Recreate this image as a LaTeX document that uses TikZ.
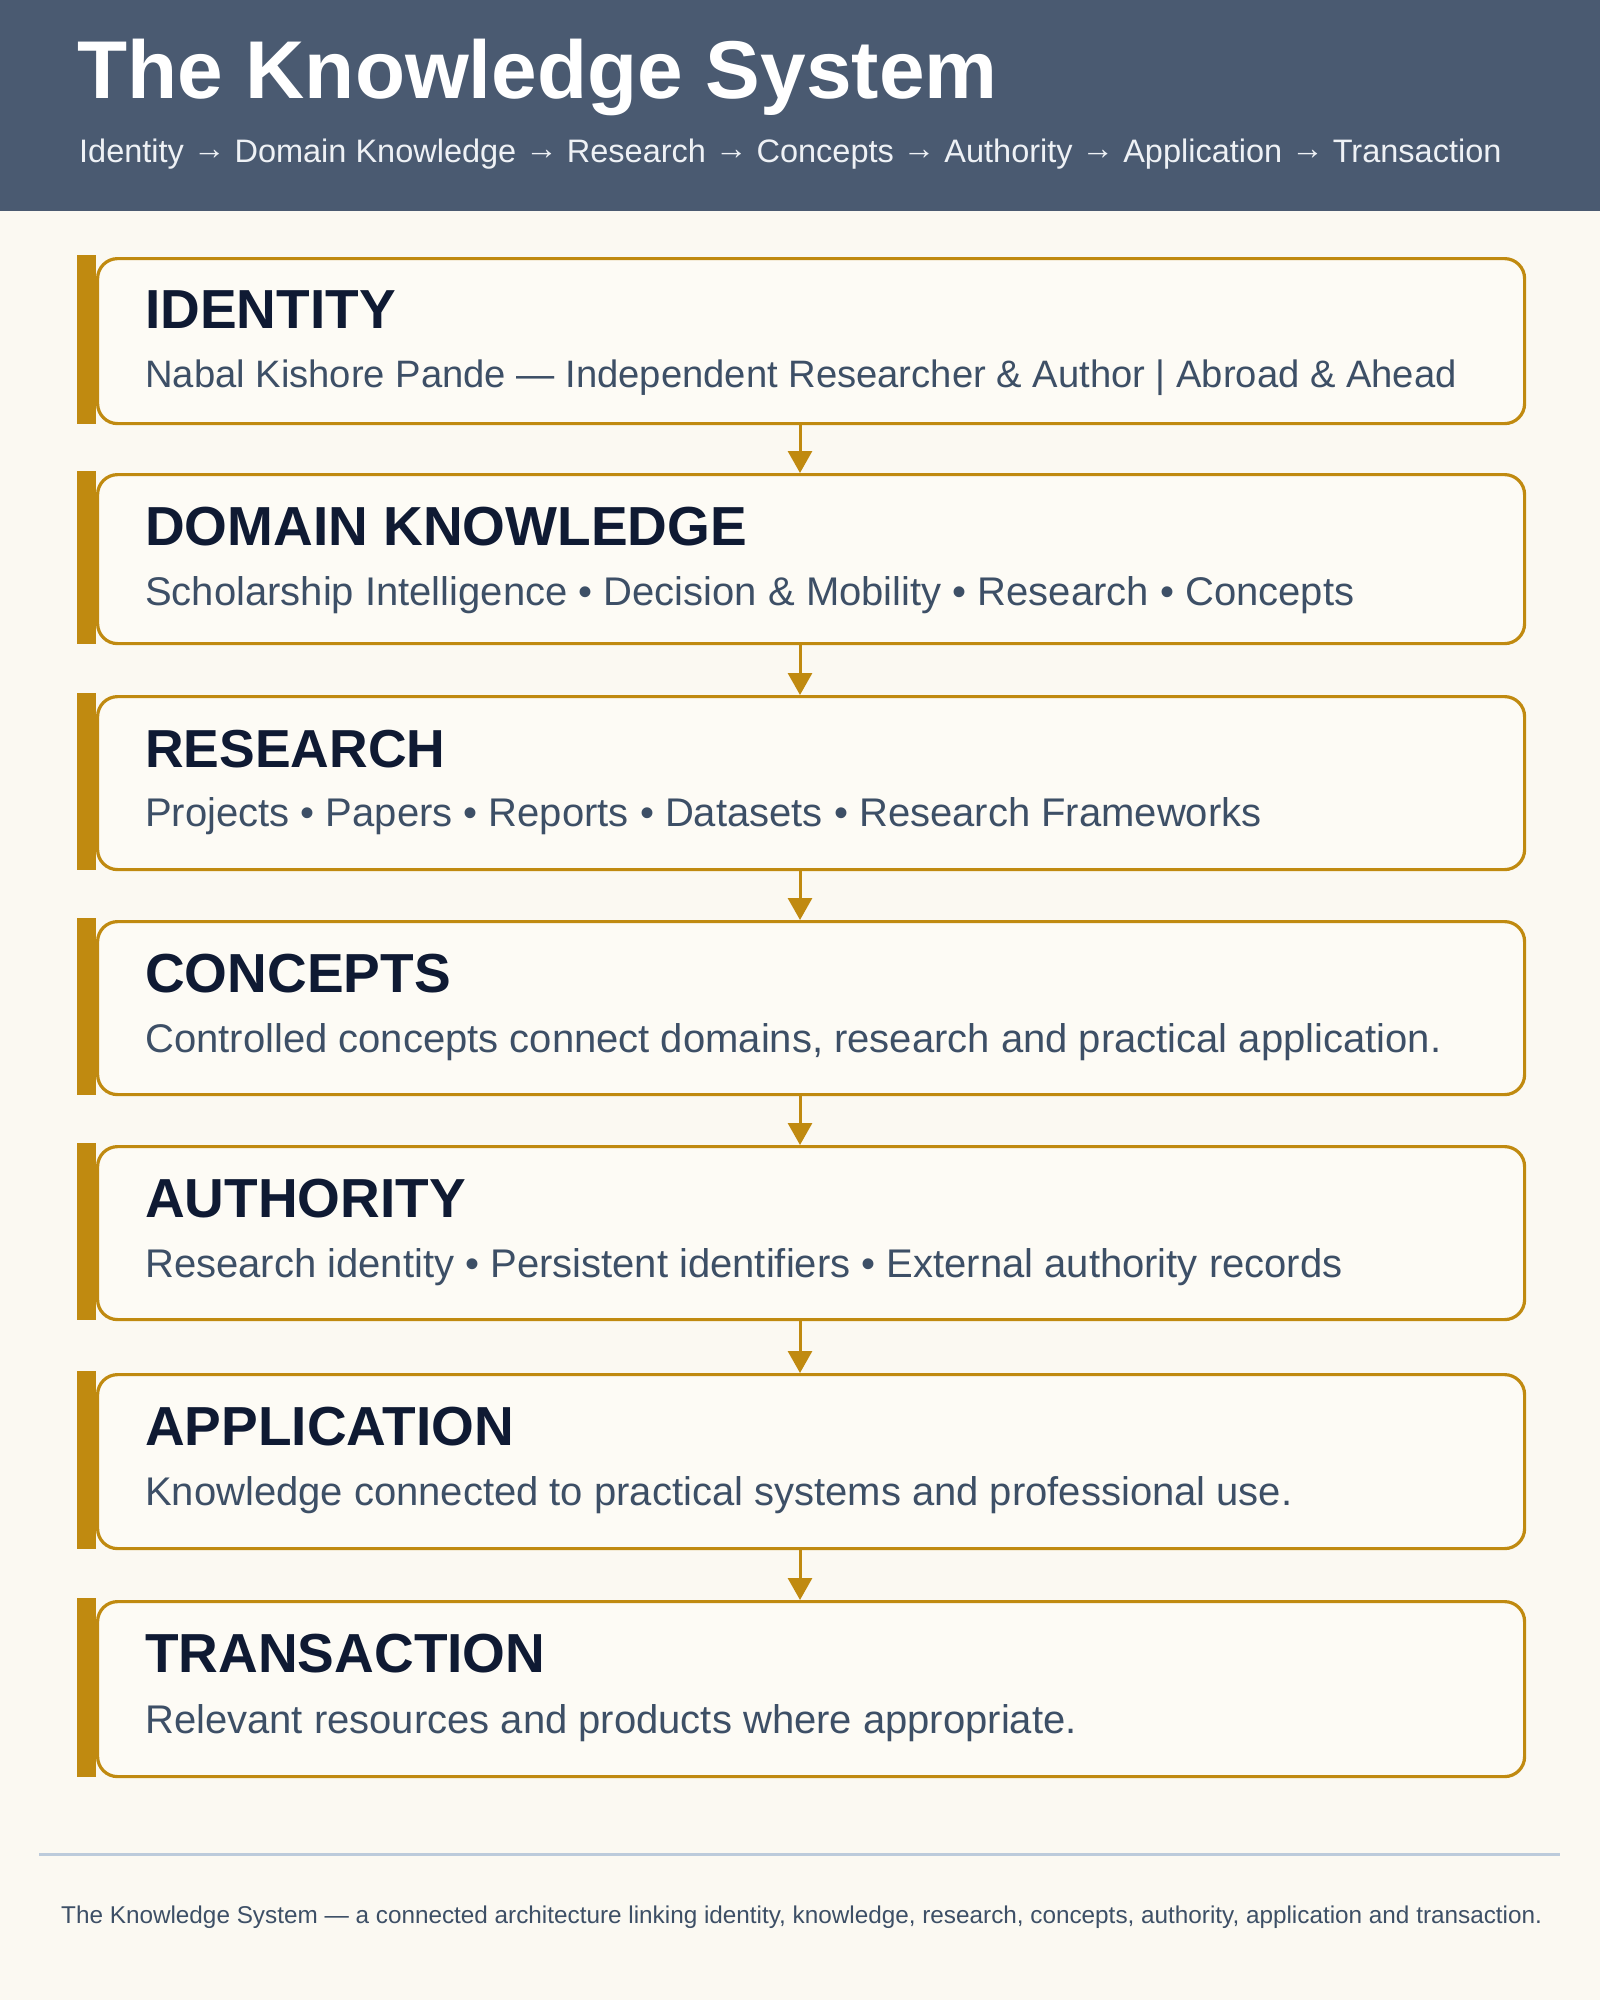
\documentclass[tikz,border=0pt]{standalone}
\usepackage{fontspec}
\setmainfont{Liberation Sans}
\usetikzlibrary{arrows.meta}
\definecolor{bgc}{HTML}{FBF9F2}
\definecolor{hdrc}{HTML}{4A5A71}
\definecolor{goldc}{HTML}{C08A10}
\definecolor{boxc}{HTML}{FDFBF5}
\definecolor{headc}{HTML}{0F1A33}
\definecolor{subc}{HTML}{3D4F66}
\definecolor{sepc}{HTML}{BCCBDB}
\definecolor{subtitlec}{HTML}{EEF1F5}
\begin{document}
\begin{tikzpicture}[x=1pt,y=-1pt,
  stage/.style={draw=goldc,line width=3.2pt,rounded corners=20pt,fill=boxc,minimum width=1427pt,inner sep=0pt,anchor=north west},
  head/.style={anchor=base west,inner sep=0pt,text=headc,font=\fontsize{55}{60}\selectfont\bfseries},
  sub/.style={anchor=base west,inner sep=0pt,text=subc,font=\fontsize{40}{46}\selectfont},
  flow/.style={draw=goldc,line width=3pt,-{Triangle[length=22pt,width=24pt]}}]
\useasboundingbox (0,0) rectangle (1600,2000);
\fill[bgc] (0,0) rectangle (1600,2000);
\fill[hdrc] (0,0) rectangle (1600,211);
\node[anchor=base west,inner sep=0pt,text=white,font=\fontsize{82}{88}\selectfont\bfseries] (title) at (77,98) {The Knowledge System};
\node[anchor=base west,inner sep=0pt,text=subtitlec,font=\fontsize{32.5}{38}\selectfont] (subtitle) at (79,162) {Identity \raisebox{0.08em}{→} Domain Knowledge \raisebox{0.08em}{→} Research \raisebox{0.08em}{→} Concepts \raisebox{0.08em}{→} Authority \raisebox{0.08em}{→} Application \raisebox{0.08em}{→} Transaction};
% boxes
\node[stage,minimum height=165pt] (b1) at (96,257) {};
\node[stage,minimum height=169pt] (b2) at (96,473) {};
\node[stage,minimum height=173pt] (b3) at (96,695) {};
\node[stage,minimum height=173pt] (b4) at (96,920) {};
\node[stage,minimum height=173pt] (b5) at (96,1145) {};
\node[stage,minimum height=174pt] (b6) at (96,1373) {};
\node[stage,minimum height=175pt] (b7) at (96,1600) {};
\foreach \t/\b in {257/422,473/642,695/868,920/1093,1145/1318,1373/1547,1600/1775}
  \fill[goldc] (77,\t-1.6) rectangle (96,\b+1.6);
% texts
\node[head] (h1) at (145,328) {IDENTITY};
\node[sub,font=\fontsize{38.2}{44}\selectfont] (s1) at (145,387) {Nabal Kishore Pande — Independent Researcher \& Author | Abroad \& Ahead};
\node[head] (h2) at (145,545) {DOMAIN KNOWLEDGE};
\node[sub] (s2) at (145,605) {Scholarship Intelligence • Decision \& Mobility • Research • Concepts};
\node[head,font=\fontsize{53.5}{60}\selectfont\bfseries] (h3) at (145,767) {RESEARCH};
\node[sub] (s3) at (145,826) {Projects • Papers • Reports • Datasets • Research Frameworks};
\node[head] (h4) at (145,992) {CONCEPTS};
\node[sub] (s4) at (145,1052) {Controlled concepts connect domains, research and practical application.};
\node[head] (h5) at (145,1217) {AUTHORITY};
\node[sub] (s5) at (145,1277) {Research identity • Persistent identifiers • External authority records};
\node[head] (h6) at (145,1445) {APPLICATION};
\node[sub] (s6) at (145,1505) {Knowledge connected to practical systems and professional use.};
\node[head] (h7) at (145,1672) {TRANSACTION};
\node[sub] (s7) at (145,1733) {Relevant resources and products where appropriate.};
% connectors
\coordinate (ax) at (800,0);
\draw[flow] (b1.south -| ax) -- (b2.north -| ax);
\draw[flow] (b2.south -| ax) -- (b3.north -| ax);
\draw[flow] (b3.south -| ax) -- (b4.north -| ax);
\draw[flow] (b4.south -| ax) -- (b5.north -| ax);
\draw[flow] (b5.south -| ax) -- (b6.north -| ax);
\draw[flow] (b6.south -| ax) -- (b7.north -| ax);
% footer
\draw[sepc,line width=3pt] (39,1854) -- (1560,1854);
\node[anchor=base west,inner sep=0pt,text=subc,font=\fontsize{24.3}{29}\selectfont] (foot) at (61,1923) {The Knowledge System — a connected architecture linking identity, knowledge, research, concepts, authority, application and transaction.};
\end{tikzpicture}
\end{document}
